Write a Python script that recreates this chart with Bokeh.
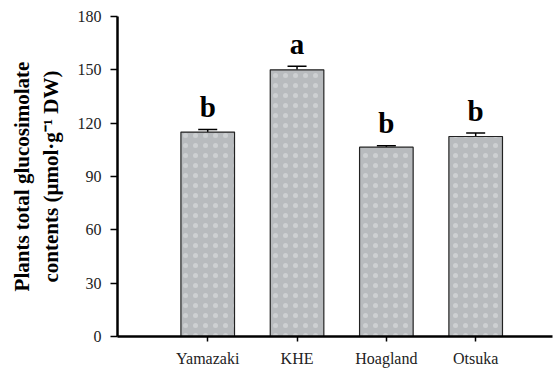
from bokeh.plotting import figure
from bokeh.models import Range1d, FixedTicker, Whisker, ColumnDataSource, TeeHead
from bokeh.embed import file_html
from bokeh.resources import INLINE
from bokeh.core.properties import value

# Nutrient solution treatments and total glucosinolate contents
treatments = ["Yamazaki", "KHE", "Hoagland", "Otsuka"]
contents = [115.0, 150.0, 106.5, 112.5]
std_err = [1.5, 2.0, 0.8, 2.0]
letters = ["b", "a", "b", "b"]
y_ticks = [0, 30, 60, 90, 120, 150, 180]

xs = list(range(1, len(treatments) + 1))
tops = [c + e for c, e in zip(contents, std_err)]
src = ColumnDataSource(dict(x=xs, top=contents, upper=tops, lower=contents,
                            letter=letters, ly=[t + 3.6 for t in tops]))

SERIF = "Liberation Serif"

p = figure(width=553, height=369, output_backend="svg", toolbar_location=None,
           x_range=Range1d(-0.01, 4.86), y_range=Range1d(0, 180),
           min_border_left=117, min_border_right=1, min_border_top=16, min_border_bottom=32)
p.outline_line_color = None
p.grid.visible = False
p.background_fill_color = "white"
p.border_fill_color = "white"

p.vbar(x="x", top="top", width=0.6, bottom=0, source=src,
       fill_color="#b8bbbe", line_color="#222222", line_width=1.2,
       hatch_pattern="dot", hatch_color="white", hatch_alpha=0.3, hatch_scale=10,
       hatch_weight=1)

whisk = Whisker(base="x", upper="upper", lower="lower", source=src,
                line_color="black", line_width=1.5,
                upper_head=TeeHead(size=19, line_color="black", line_width=1.5),
                lower_head=None)
p.add_layout(whisk)

p.text(x="x", y="ly", text="letter", source=src, text_align="center",
       text_baseline="bottom", text_font=value(SERIF), text_font_style="bold",
       text_font_size="29px", text_color="black")

# y axis
ya = p.yaxis[0]
ya.ticker = FixedTicker(ticks=y_ticks)
ya.axis_line_width = 2.5
ya.axis_line_color = "black"
ya.major_tick_line_width = 1.5
ya.major_tick_out = 7
ya.major_tick_in = 0
ya.minor_tick_line_color = None
ya.major_label_text_font = SERIF
ya.major_label_text_font_size = "16px"
ya.major_label_text_color = "#222222"
ya.major_label_standoff = 9
ya.axis_label = "Plants total glucosimolate\ncontents (\u00b5mol\u00b7g\u207b\u00b9 DW)"
ya.axis_label_text_font = SERIF
ya.axis_label_text_font_style = "bold"
ya.axis_label_text_font_size = "21px"
ya.axis_label_text_color = "black"
ya.axis_label_standoff = 12

# x axis
xa = p.xaxis[0]
xa.ticker = FixedTicker(ticks=xs)
xa.major_label_overrides = {x: t for x, t in zip(xs, treatments)}
xa.axis_line_width = 2.5
xa.axis_line_color = "black"
xa.major_tick_line_width = 1.5
xa.major_tick_out = 5
xa.major_tick_in = 0
xa.minor_tick_line_color = None
xa.major_label_text_font = SERIF
xa.major_label_text_font_size = "16px"
xa.major_label_text_color = "#222222"
xa.major_label_standoff = 8

open("out.html", "w").write(file_html(p, INLINE))
